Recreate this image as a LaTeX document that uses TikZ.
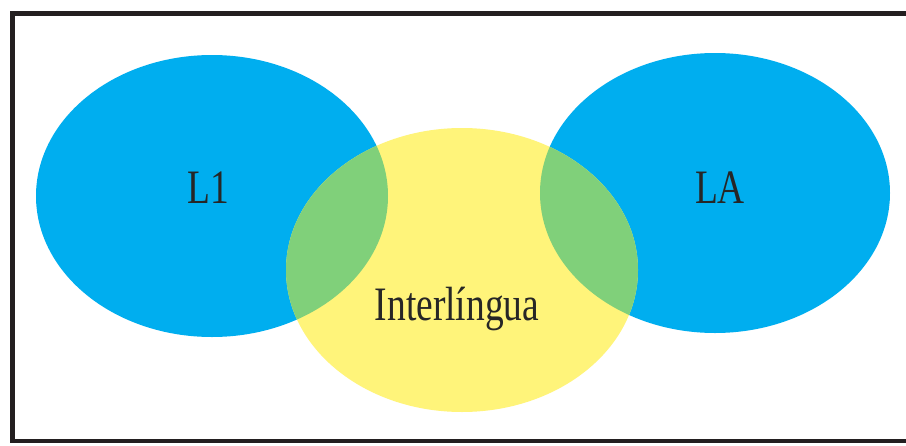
\documentclass[tikz,border=0pt]{standalone}
\usepackage{fontspec}
\newfontfamily\cf[FakeStretch=0.78]{Liberation Serif}
\definecolor{lblue}{RGB}{0,174,239}
\definecolor{lyellow}{RGB}{255,244,122}
\definecolor{lgreen}{RGB}{128,208,122}
\definecolor{frame}{RGB}{35,31,32}
\tikzset{
  lbl/.style={anchor=base, inner sep=0pt, font=\cf\fontsize{48}{50}\selectfont, text=black!85},
}
\begin{document}
\begin{tikzpicture}[x=1pt,y=-1pt]
\useasboundingbox (0,0) rectangle (906,445);
\fill[white] (0,0) rectangle (906,445);
% ellipses
\fill[lblue] (212,196) ellipse [x radius=176pt, y radius=141pt];
\fill[lblue] (715,193) ellipse [x radius=175pt, y radius=140pt];
\fill[lyellow] (462,270) ellipse [x radius=176pt, y radius=142pt];
\begin{scope}
  \clip (462,270) ellipse [x radius=176pt, y radius=142pt];
  \fill[lgreen] (212,196) ellipse [x radius=176pt, y radius=141pt];
  \fill[lgreen] (715,193) ellipse [x radius=175pt, y radius=140pt];
\end{scope}
% frame (open at right)
\draw[frame, line width=4.5pt] (906,13.5) -- (12.5,13.5) -- (12.5,441) -- (906,441);
% labels
\node[lbl] (l1) at (208,203) {L1};
\node[lbl] (la) at (720,203) {LA};
\node[lbl] (inter) at (457,320) {Interlíngua};
\end{tikzpicture}
\end{document}
